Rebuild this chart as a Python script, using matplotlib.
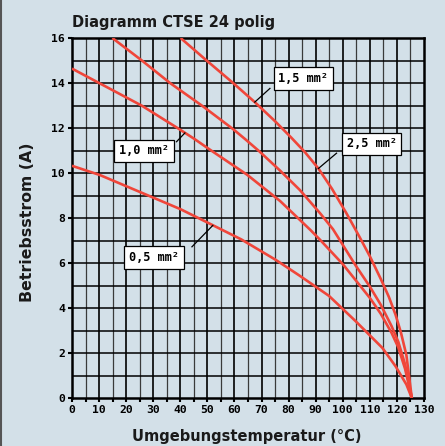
import matplotlib
matplotlib.use("Agg")
import matplotlib.pyplot as plt
from matplotlib.ticker import MultipleLocator

# curve points (temperature in degC, current in A)
t_05 = [0, 10.3, 40.1, 50, 62.5, 75.1, 83.9, 94.9, 104.7, 114.6, 119.5, 123.5, 125.5]
i_05 = [10.32, 9.91, 8.39, 7.8, 7.05, 6.15, 5.45, 4.54, 3.42, 2.23, 1.41, 0.6, 0.0]

t_10 = [0, 10, 25.8, 38.7, 45, 50.9, 64.7, 76.9, 88.2, 91.7, 100, 110, 114, 118, 120.5, 123, 125.5]
i_10 = [14.64, 14.0, 12.99, 12.02, 11.53, 11.04, 9.92, 8.75, 7.45, 7.02, 5.95, 4.45, 3.75, 2.9, 2.25, 1.3, 0.0]

t_15 = [14.9, 25.8, 36.2, 48.5, 59.5, 64, 69.3, 76.9, 84.1, 91.7, 96.4, 104.7, 110, 114, 118, 120.5, 123, 125.5]
i_15 = [16.0, 15.0, 14.0, 12.95, 11.95, 11.5, 10.95, 10.1, 9.25, 8.2, 7.5, 5.9, 4.95, 4.15, 3.2, 2.5, 1.5, 0.0]

t_25 = [40.1, 49.7, 59.5, 67.5, 75, 81, 86, 91, 96, 101.4, 106, 110, 114, 117, 119.5, 121.5, 123.5, 125.5]
i_25 = [16.0, 15.0, 14.0, 13.15, 12.3, 11.57, 10.93, 10.2, 9.3, 8.2, 7.2, 6.3, 5.3, 4.5, 3.7, 2.9, 1.9, 0.0]

labels = ["0,5 mm²", "1,0 mm²", "1,5 mm²", "2,5 mm²"]
x_ticks = list(range(0, 131, 10))
y_ticks = list(range(0, 17, 2))

bg = "#d3e0e8"
red = "#f0463a"

fig = plt.figure(figsize=(4.45, 4.46), dpi=100, facecolor=bg)
ax = fig.add_axes([72 / 445, 48 / 446, 352 / 445, 360 / 446])
ax.set_facecolor(bg)

# grid: every 5 degC and every 1 A, heavier at 10 degC
for xv in range(5, 130, 5):
    if xv % 10 == 0:
        ax.axvline(xv, color="black", lw=1.2, zorder=1)
    else:
        ax.axvline(xv, color="#3a3a3a", lw=0.9, zorder=1)
for yv in range(1, 16):
    ax.axhline(yv, color="black", lw=1.1, zorder=1)

for t, i in [(t_05, i_05), (t_10, i_10), (t_15, i_15), (t_25, i_25)]:
    ax.plot(t, i, color=red, lw=1.9, solid_capstyle="butt", zorder=3)

ax.set_xlim(0, 130)
ax.set_ylim(0, 16)
for s in ax.spines.values():
    s.set_linewidth(1.8)

mono = dict(family="DejaVu Sans Mono", weight="bold")
ax.set_xticks(x_ticks)
ax.xaxis.set_minor_locator(MultipleLocator(5))
ax.set_yticks(y_ticks)
ax.set_xticklabels([str(v) for v in x_ticks], fontsize=8.2, **mono)
ax.set_yticklabels([str(v) for v in y_ticks], fontsize=8.2, **mono)
ax.tick_params(axis="both", which="both", direction="out", length=3, width=1.5, pad=2)

# label boxes with leader lines
box = dict(boxstyle="square,pad=0.4", fc="white", ec="black", lw=0.9)
ann = [
    (labels[0], (30.3, 6.24), (44.3, 6.72), (52.0, 7.67)),
    (labels[1], (26.6, 10.98), (38.6, 11.39), (41.7, 11.78)),
    (labels[2], (85.4, 14.2), (73.1, 13.76), (67.5, 13.15)),
    (labels[3], (110.7, 11.29), (97.7, 10.88), (91.0, 10.2)),
]
for txt, c, p0, p1 in ann:
    ax.plot([p0[0], p1[0]], [p0[1], p1[1]], color="black", lw=0.9, zorder=4)
    ax.text(c[0], c[1], txt, ha="center", va="center", fontsize=8.6, bbox=box,
            zorder=5, **mono)

fig.text(72 / 445, 1 - 22 / 446, "Diagramm CTSE 24 polig", ha="left", va="center",
         fontsize=10.5, weight="bold", color="#1a1a1a")
fig.text(247 / 445, 1 - 437 / 446, "Umgebungstemperatur (°C)", ha="center", va="center",
         fontsize=10.5, weight="bold", color="#1a1a1a")
fig.text(27 / 445, 1 - 222 / 446, "Betriebsstrom (A)", ha="center", va="center",
         rotation=90, fontsize=11.3, weight="bold", color="#1a1a1a")

# dark edge on the left side of the panel
fig.add_artist(plt.Line2D([0.002, 0.002], [0, 1], transform=fig.transFigure,
                          color="#555555", lw=1.5))

fig.savefig("out.png", dpi=100, facecolor=bg)
